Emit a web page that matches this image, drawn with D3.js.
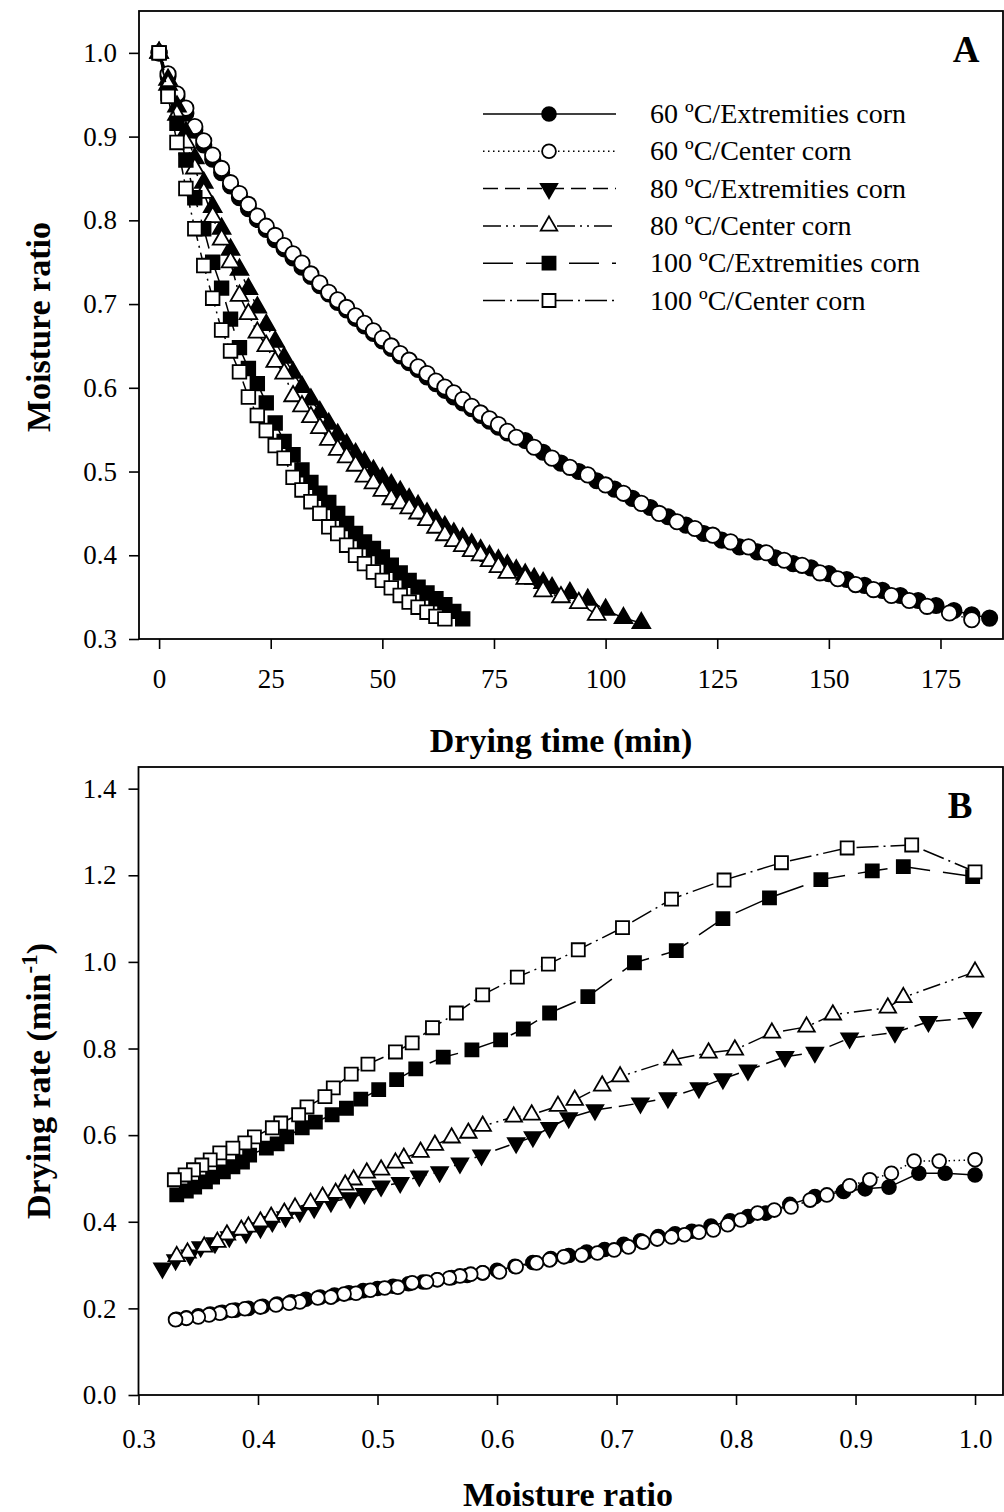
<!DOCTYPE html>
<html>
<head>
<meta charset="utf-8">
<script src="https://cdn.jsdelivr.net/npm/d3@7"></script>
<style>
  body { margin: 0; background: #fff; }
  svg { display: block; font-family: "Liberation Serif", "Times New Roman", serif; }
  .axis line { stroke: #000; stroke-width: 1.6px; }
  .axis text { font-size: 27px; fill: #000; font-family: "Liberation Serif", serif; }
  .title { font-size: 34px; font-weight: bold; }
</style>
</head>
<body>
<script>
// ---- legend / series names
var seriesNames = ["60 \u00baC/Extremities corn", "60 \u00baC/Center corn",
                   "80 \u00baC/Extremities corn", "80 \u00baC/Center corn",
                   "100 \u00baC/Extremities corn", "100 \u00baC/Center corn"];

// ---- tick labels
var timeTicks = [0, 25, 50, 75, 100, 125, 150, 175];
var mrTicksA = [0.3, 0.4, 0.5, 0.6, 0.7, 0.8, 0.9, 1.0];
var mrTicksB = [0.3, 0.4, 0.5, 0.6, 0.7, 0.8, 0.9, 1.0];
var rateTicks = [0.0, 0.2, 0.4, 0.6, 0.8, 1.0, 1.2, 1.4];

// ---- panel A: drying time (min) vs moisture ratio
var time60Ext = [0,2,4,6,8,10,12,14,16,18,20,22,24,26,28,30,32,34,36,38,40,42,44,46,48,50,52,54,56,58,60,62,64,66,68,70,72,74,76,78,
  82,86,90,94,98,102,106,110,114,118,122,126,130,134,138,142,146,150,154,158,162,166,170,174,178,182,186];
var mr60Ext = [1.0,.972,.948,.928,.908,.89,.873,.857,.841,.827,.814,.801,.789,.777,.766,.755,.744,.733,.722,.712,
  .702,.693,.683,.674,.665,.656,.647,.638,.63,.622,.613,.605,.597,.589,.582,.575,.567,.56,.553,.546,
  .537,.523,.51,.5,.489,.479,.468,.457,.446,.436,.426,.418,.41,.404,.397,.39,.385,.378,.371,.364,.358,.352,.346,.34,.334,.329,.325];

var time60Cen = [0,2,4,6,8,10,12,14,16,18,20,22,24,26,28,30,32,34,36,38,40,42,44,46,48,50,52,54,56,58,60,62,64,66,68,70,72,74,76,78,80,
  84,88,92,96,100,104,108,112,116,120,124,128,132,136,140,144,148,152,156,160,164,168,172,177,182];
var mr60Cen = [1.0,.975,.951,.934,.912,.895,.878,.862,.845,.832,.819,.805,.793,.782,.77,.76,.749,.736,.725,.714,
  .705,.696,.686,.677,.668,.659,.65,.641,.633,.625,.617,.608,.601,.594,.586,.578,.57,.563,.556,.548,.541,
  .529,.516,.505,.496,.484,.474,.462,.45,.44,.432,.424,.416,.41,.403,.394,.388,.379,.372,.365,.359,.352,.346,.339,.331,.323];

var time80Ext = [0,2,4,6,8,10,12,14,16,18,20,22,24,26,28,30,32,34,36,38,40,42,44,46,48,50,52,54,56,58,60,62,64,66,68,70,72,74,76,78,80,82,84,86,88,
  92,96,100,104,108];
var mr80Ext = [1.0,.968,.936,.905,.874,.845,.816,.79,.765,.741,.718,.696,.675,.655,.636,.618,.601,.586,.571,.557,
  .544,.532,.521,.511,.501,.492,.484,.476,.467,.459,.45,.442,.434,.426,.42,.413,.406,.399,.394,.388,
  .382,.377,.372,.367,.361,.355,.347,.335,.325,.319];

var time80Cen = [0,2,4,6,8,10,12,14,16,18,20,22,24,26,28,30,32,34,36,38,40,42,44,46,48,50,52,54,56,58,60,62,64,66,68,70,72,74,76,78,
  82,86,90,94,98];
var mr80Cen = [1.0,.962,.926,.893,.862,.833,.804,.777,.75,.71,.688,.666,.65,.631,.617,.59,.578,.565,.552,.538,
  .526,.517,.507,.494,.486,.477,.467,.462,.456,.45,.442,.433,.424,.417,.411,.405,.4,.393,.386,.379,
  .372,.357,.35,.343,.329];

var time100Ext = [0,2,4,6,8,10,12,14,16,18,20,22,24,26,28,30,32,34,36,38,40,42,44,46,48,50,52,54,56,58,60,62,64,66,68];
var mr100Ext = [1.0,.952,.916,.872,.827,.79,.75,.719,.682,.648,.623,.605,.582,.558,.536,.52,.502,.487,.474,.463,
  .45,.438,.426,.416,.408,.398,.388,.379,.37,.362,.355,.348,.341,.333,.324];

var time100Cen = [0,2,4,6,8,10,12,14,16,18,20,22,24,26,28,30,32,34,36,38,40,42,44,46,48,50,52,54,56,58,60,62,64];
var mr100Cen = [1.0,.948,.893,.838,.79,.746,.707,.669,.644,.619,.589,.567,.549,.531,.516,.493,.478,.464,.45,.434,
  .426,.412,.4,.39,.38,.37,.361,.352,.344,.338,.332,.327,.324];

// ---- panel B: moisture ratio vs drying rate (min-1)
var mrB60Ext = [1.0,.975,.953,.928,.908,.89,.866,.845,.825,.81,.795,.779,.763,.749,.735,.72,.706,.69,.675,.66,
  .645,.63,.615,.6,.588,.575,.562,.55,.538,.526,.513,.5,.488,.476,.464,.452,.44,.428,.416,.404,.392,.381,.37,.36,.35,.34,.332];
var rate60Ext = [.508,.512,.512,.48,.476,.47,.458,.44,.42,.412,.402,.39,.378,.372,.366,.356,.348,.336,.33,.322,
  .315,.306,.297,.288,.282,.276,.271,.266,.261,.257,.251,.246,.241,.236,.231,.226,.221,.215,.21,.205,.2,.196,.191,.187,.183,.178,.175];

var mrB60Cen = [1.0,.97,.949,.93,.912,.895,.876,.862,.846,.832,.818,.804,.793,.781,.769,.757,.746,.734,.722,.71,
  .698,.684,.671,.656,.644,.633,.616,.602,.588,.578,.569,.56,.55,.541,.529,.517,.506,.494,.482,.472,
  .461,.45,.435,.426,.415,.402,.389,.378,.368,.359,.35,.34,.331];
var rate60Cen = [.543,.54,.54,.512,.497,.483,.462,.45,.434,.427,.42,.404,.393,.381,.376,.37,.365,.36,.353,.342,
  .335,.328,.323,.319,.312,.305,.296,.284,.282,.279,.275,.27,.266,.261,.259,.249,.247,.242,.235,.233,
  .226,.224,.215,.212,.208,.203,.199,.195,.189,.185,.18,.177,.174];

var mrB80Ext = [.998,.961,.933,.895,.866,.841,.81,.789,.769,.743,.72,.682,.66,.644,.63,.616,.587,.569,.552,.535,
  .519,.503,.489,.477,.461,.447,.435,.423,.412,.402,.39,.376,.364,.352,.343,.331,.32];
var rate80Ext = [.871,.862,.837,.824,.791,.781,.75,.73,.709,.686,.674,.658,.64,.617,.596,.582,.554,.535,.515,.505,
  .49,.482,.465,.455,.446,.432,.423,.411,.4,.386,.374,.365,.351,.342,.323,.312,.293];

var mrB80Cen = [1.0,.94,.927,.881,.859,.83,.799,.777,.747,.703,.688,.665,.651,.629,.614,.588,.576,.562,.548,.536,
  .522,.515,.503,.491,.48,.473,.465,.454,.444,.431,.422,.411,.402,.392,.386,.374,.366,.355,.341,.332];
var rate80Cen = [.977,.918,.894,.878,.85,.836,.797,.79,.774,.735,.714,.681,.667,.647,.642,.621,.605,.594,.577,.561,
  .547,.536,.52,.513,.497,.485,.466,.457,.443,.432,.42,.411,.4,.388,.381,.37,.353,.342,.328,.32];

var mrB100Ext = [.998,.94,.914,.871,.828,.789,.75,.715,.676,.644,.622,.603,.579,.555,.532,.516,.501,.486,.474,.462,
  .448,.437,.424,.416,.407,.393,.387,.379,.371,.362,.356,.347,.34,.332];
var rate100Ext = [1.197,1.22,1.21,1.19,1.148,1.1,1.026,.998,.92,.882,.845,.82,.797,.78,.753,.728,.705,.683,.662,.647,
  .63,.617,.596,.58,.57,.554,.538,.527,.515,.503,.492,.48,.471,.462];

var mrB100Cen = [1.0,.947,.893,.838,.79,.746,.705,.668,.643,.617,.588,.566,.546,.529,.515,.492,.478,.463,.456,.441,
  .434,.419,.412,.397,.389,.379,.368,.36,.353,.346,.339,.33];
var rate100Cen = [1.208,1.27,1.263,1.229,1.189,1.145,1.079,1.028,.995,.965,.924,.882,.848,.813,.792,.764,.741,.709,.689,.665,
  .647,.628,.617,.596,.582,.57,.559,.543,.531,.52,.508,.497];

// ---- styles per series (same order as seriesNames)
var styles = [
  {shapeA: "circle", shapeB: "circle", filled: true,  dash: null},
  {shapeA: "circle", shapeB: "circle", filled: false, dash: "1.5,3.5"},
  {shapeA: "triUp",  shapeB: "triDown", filled: true, dash: "15,7"},
  {shapeA: "triUp",  shapeB: "triUp", filled: false, dash: "18,5,2,5,2,5"},
  {shapeA: "square", shapeB: "square", filled: true,  dash: "30,13"},
  {shapeA: "square", shapeB: "square", filled: false, dash: "22,5,2,5"}
];

var panelA = [[time60Ext, mr60Ext], [time60Cen, mr60Cen], [time80Ext, mr80Ext],
              [time80Cen, mr80Cen], [time100Ext, mr100Ext], [time100Cen, mr100Cen]];
var panelB = [[mrB60Ext, rate60Ext], [mrB60Cen, rate60Cen], [mrB80Ext, rate80Ext],
              [mrB80Cen, rate80Cen], [mrB100Ext, rate100Ext], [mrB100Cen, rate100Cen]];

var width = 1004, height = 1512;

var svg = d3.select("body").append("svg")
    .attr("width", width)
    .attr("height", height);

var boxA = {left: 139, right: 1003, top: 11, bottom: 639};
var boxB = {left: 138.5, right: 1003, top: 767, bottom: 1395};

var xA = d3.scaleLinear().domain([-4.5, 189]).range([boxA.left, boxA.right]);
var yA = d3.scaleLinear().domain([0.3, 1.05]).range([boxA.bottom, boxA.top]);
var xB = d3.scaleLinear().domain([0.3, 1.0234]).range([boxB.left, boxB.right]);
var yB = d3.scaleLinear().domain([0, 1.45]).range([boxB.bottom, boxB.top]);

var symTypes = {circle: d3.symbolCircle, square: d3.symbolSquare, triUp: d3.symbolTriangle, triDown: d3.symbolTriangle};

function marker(shape, big) {
  var sizes = big ? {circle: 185, square: 185, triUp: 135, triDown: 135}
                  : {circle: 150, square: 170, triUp: 118, triDown: 118};
  return d3.symbol(symTypes[shape], sizes[shape])();
}

function drawFrame(box) {
  svg.append("rect")
      .attr("x", box.left).attr("y", box.top)
      .attr("width", box.right - box.left)
      .attr("height", box.bottom - box.top)
      .attr("fill", "none")
      .attr("stroke", "#000")
      .attr("stroke-width", 1.8);
}

function drawSeries(g, xs, ys, x, y, st, shape, big) {
  var pts = d3.zip(xs, ys);
  var line = d3.line()
      .x(function(d) { return x(d[0]); })
      .y(function(d) { return y(d[1]); });

  g.append("path")
      .datum(pts)
      .attr("d", line)
      .attr("fill", "none")
      .attr("stroke", "#000")
      .attr("stroke-width", 1.5)
      .attr("stroke-dasharray", st.dash);

  g.selectAll(null)
      .data(pts)
    .enter().append("path")
      .attr("d", marker(shape, big))
      .attr("transform", function(d) {
        return "translate(" + x(d[0]) + "," + y(d[1]) + ")" + (shape == "triDown" ? " rotate(180)" : "");
      })
      .attr("fill", st.filled ? "#000" : "#fff")
      .attr("stroke", "#000")
      .attr("stroke-width", 1.8);
}

// ---------------- Panel A
drawFrame(boxA);

var gAx = svg.append("g")
    .attr("class", "axis")
    .attr("transform", "translate(0," + boxA.bottom + ")")
    .call(d3.axisBottom(xA).tickValues(timeTicks).tickSize(10).tickSizeOuter(0).tickPadding(20).tickFormat(d3.format("d")));
gAx.select(".domain").remove();

var gAy = svg.append("g")
    .attr("class", "axis")
    .attr("transform", "translate(" + boxA.left + ",0)")
    .call(d3.axisLeft(yA).tickValues(mrTicksA).tickSize(10).tickSizeOuter(0).tickPadding(12).tickFormat(d3.format(".1f")));
gAy.select(".domain").remove();

var plotA = svg.append("g");
panelA.forEach(function(p, i) {
  drawSeries(plotA.append("g"), p[0], p[1], xA, yA, styles[i], styles[i].shapeA, true);
});

svg.append("text")
    .attr("class", "title")
    .attr("x", 561).attr("y", 752)
    .attr("text-anchor", "middle")
    .text("Drying time (min)");

svg.append("text")
    .attr("class", "title")
    .attr("transform", "translate(50,327) rotate(-90)")
    .attr("text-anchor", "middle")
    .text("Moisture ratio");

svg.append("text")
    .attr("x", 966).attr("y", 62)
    .attr("text-anchor", "middle")
    .style("font-size", "37px")
    .style("font-weight", "bold")
    .text("A");

// legend
var legend = svg.append("g");
seriesNames.forEach(function(name, i) {
  var ly = 114 + i * 37.3;
  var st = styles[i];
  var shape = i == 2 ? "triDown" : st.shapeA;
  legend.append("line")
      .attr("x1", 483).attr("x2", 616)
      .attr("y1", ly).attr("y2", ly)
      .attr("stroke", "#000")
      .attr("stroke-width", 1.5)
      .attr("stroke-dasharray", st.dash);
  legend.append("path")
      .attr("d", marker(shape, false))
      .attr("transform", "translate(549," + ly + ")" + (shape == "triDown" ? " rotate(180)" : ""))
      .attr("fill", st.filled ? "#000" : "#fff")
      .attr("stroke", "#000")
      .attr("stroke-width", 1.8);
  legend.append("text")
      .attr("x", 650).attr("y", ly + 9)
      .style("font-size", "28px")
      .text(name);
});

// ---------------- Panel B
drawFrame(boxB);

var gBx = svg.append("g")
    .attr("class", "axis")
    .attr("transform", "translate(0," + boxB.bottom + ")")
    .call(d3.axisBottom(xB).tickValues(mrTicksB).tickSize(10).tickSizeOuter(0).tickPadding(24).tickFormat(d3.format(".1f")));
gBx.select(".domain").remove();

var gBy = svg.append("g")
    .attr("class", "axis")
    .attr("transform", "translate(" + boxB.left + ",0)")
    .call(d3.axisLeft(yB).tickValues(rateTicks).tickSize(10).tickSizeOuter(0).tickPadding(12).tickFormat(d3.format(".1f")));
gBy.select(".domain").remove();

var plotB = svg.append("g");
panelB.forEach(function(p, i) {
  drawSeries(plotB.append("g"), p[0], p[1], xB, yB, styles[i], styles[i].shapeB, false);
});

svg.append("text")
    .attr("class", "title")
    .attr("x", 568).attr("y", 1506)
    .attr("text-anchor", "middle")
    .text("Moisture ratio");

var yTitleB = svg.append("text")
    .attr("class", "title")
    .attr("transform", "translate(50,1081) rotate(-90)")
    .attr("text-anchor", "middle");
yTitleB.append("tspan").text("Drying rate (min");
yTitleB.append("tspan").attr("dy", -13).style("font-size", "23px").text("-1");
yTitleB.append("tspan").attr("dy", 13).text(")");

svg.append("text")
    .attr("x", 960).attr("y", 818)
    .attr("text-anchor", "middle")
    .style("font-size", "37px")
    .style("font-weight", "bold")
    .text("B");
</script>
</body>
</html>
